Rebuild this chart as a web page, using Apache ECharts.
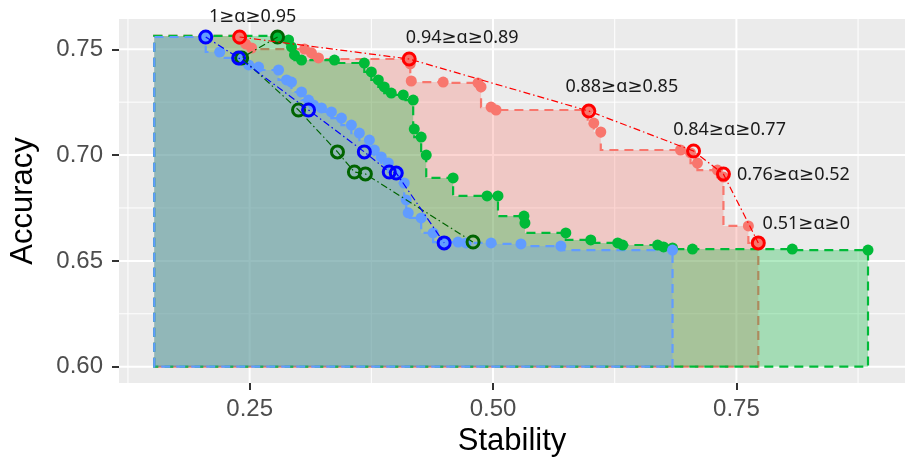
<!DOCTYPE html>
<html>
<head>
<meta charset="utf-8">
<script src="https://cdn.jsdelivr.net/npm/echarts@6/dist/echarts.min.js"></script>
<style>
html, body { margin: 0; padding: 0; background: #fff; }
#chart { width: 907px; height: 465px; }
</style>
</head>
<body>
<div id="chart"></div>
<script>
// axis breaks
const xTicks = [0.25, 0.5, 0.75];
const xMinor = [0.125, 0.375, 0.625, 0.875];
const yTicks = [0.6, 0.65, 0.7, 0.75];
const yMinor = [0.625, 0.675, 0.725];

// frontier points [stability, accuracy]
const redFront = [
  [0.2387, 0.7563], [0.2459, 0.7525], [0.2520, 0.7506], [0.3064, 0.7501],
  [0.3135, 0.7483], [0.3207, 0.7459], [0.4139, 0.7454], [0.4150, 0.7431],
  [0.4160, 0.7350], [0.4488, 0.7345], [0.4846, 0.7341], [0.4877, 0.7322],
  [0.4980, 0.7227], [0.5031, 0.7213], [0.5973, 0.7213], [0.6035, 0.7151],
  [0.6107, 0.7109], [0.6926, 0.7024], [0.7029, 0.7010], [0.7100, 0.6962],
  [0.7305, 0.6929], [0.7367, 0.6896], [0.7623, 0.6665], [0.7725, 0.6585]
];
const greenFront = [
  [0.2787, 0.7563], [0.2900, 0.7544], [0.2930, 0.7511], [0.2961, 0.7473],
  [0.3033, 0.7449], [0.3371, 0.7449], [0.3678, 0.7435], [0.3750, 0.7393],
  [0.3822, 0.7355], [0.3883, 0.7322], [0.3955, 0.7293], [0.4078, 0.7284],
  [0.4180, 0.7260], [0.4191, 0.7123], [0.4262, 0.7085], [0.4314, 0.7000],
  [0.4590, 0.6892], [0.4939, 0.6807], [0.5051, 0.6807], [0.5318, 0.6712],
  [0.5328, 0.6679], [0.5748, 0.6632], [0.6004, 0.6599], [0.6281, 0.6585],
  [0.6332, 0.6575], [0.6691, 0.6575], [0.6752, 0.6566], [0.6844, 0.6561],
  [0.7049, 0.6556], [0.8074, 0.6556], [0.8852, 0.6551]
];
const blueFront = [
  [0.2049, 0.7558], [0.2193, 0.7487], [0.2387, 0.7459], [0.2490, 0.7426],
  [0.2592, 0.7416], [0.2797, 0.7402], [0.2879, 0.7355], [0.2930, 0.7345],
  [0.3033, 0.7298], [0.3105, 0.7260], [0.3156, 0.7237], [0.3238, 0.7223],
  [0.3340, 0.7204], [0.3443, 0.7175], [0.3545, 0.7142], [0.3627, 0.7104],
  [0.3730, 0.7071], [0.3781, 0.7024], [0.3852, 0.6991], [0.3924, 0.6963],
  [0.4027, 0.6920], [0.4088, 0.6868], [0.4109, 0.6788], [0.4129, 0.6727],
  [0.4262, 0.6703], [0.4385, 0.6632], [0.4498, 0.6589], [0.4641, 0.6589],
  [0.4723, 0.6585], [0.4980, 0.6585], [0.5287, 0.6580], [0.5697, 0.6570],
  [0.6844, 0.6551]
];

// circled models
const redPick = [
  [0.2397, 0.7558], [0.4139, 0.7454], [0.5984, 0.7208],
  [0.7060, 0.7019], [0.7367, 0.6910], [0.7725, 0.6585]
];
const greenPick = [
  [0.2787, 0.7558], [0.2418, 0.7459], [0.3002, 0.7213], [0.3402, 0.7015],
  [0.3576, 0.6920], [0.3689, 0.6911], [0.4795, 0.6589]
];
const bluePick = [
  [0.2049, 0.7558], [0.2387, 0.7459], [0.3105, 0.7213], [0.3678, 0.7015],
  [0.3934, 0.6920], [0.4006, 0.6915], [0.4498, 0.6585]
];
const alphaLabels = ['1≥α≥0.95', '0.94≥α≥0.89', '0.88≥α≥0.85', '0.84≥α≥0.77', '0.76≥α≥0.52', '0.51≥α≥0'];

// shaded regions close on these
const areaLeft = 0.152;
const areaBottom = 0.6;

// layout
const X_MIN = 0.1158, X_MAX = 0.9232;
const Y_MIN = 0.5923, Y_MAX = 0.7643;
const labelOffsets = [[13, -20], [53, -21], [33, -24], [36, -21], [70, 1], [48, -19]];

const chart = echarts.init(document.getElementById('chart'));

// vh step through the points, closed down to the baseline
function stepPolygon(pts) {
  const out = [[areaLeft, areaBottom], [areaLeft, pts[0][1]]];
  pts.forEach((p, i) => {
    if (i > 0) out.push([pts[i - 1][0], p[1]]);
    out.push(p);
  });
  out.push([pts[pts.length - 1][0], areaBottom]);
  return out;
}

function areaSeries(pts, color, fill) {
  const poly = stepPolygon(pts);
  return {
    type: 'custom',
    silent: true,
    data: [[areaLeft, areaBottom]],
    renderItem(params, api) {
      return {
        type: 'polygon',
        shape: { points: poly.map(p => api.coord(p)) },
        style: { fill: fill, stroke: color, lineWidth: 2.2, lineDash: [9, 6] }
      };
    }
  };
}

function gridSeries(values, vertical, width) {
  return {
    type: 'custom',
    silent: true,
    data: values.map(v => vertical ? [v, Y_MIN] : [X_MIN, v]),
    renderItem(params, api) {
      const cs = params.coordSys;
      const p = api.coord([api.value(0), api.value(1)]);
      const shape = vertical
        ? { x1: p[0], y1: cs.y, x2: p[0], y2: cs.y + cs.height }
        : { x1: cs.x, y1: p[1], x2: cs.x + cs.width, y2: p[1] };
      return { type: 'line', shape: shape, style: { stroke: '#fff', lineWidth: width } };
    }
  };
}

function pointSeries(pts, color) {
  return {
    type: 'scatter', data: pts, symbolSize: 11, silent: true,
    itemStyle: { color: color, opacity: 1 }
  };
}

function pathSeries(pts, color) {
  return {
    type: 'line', data: pts, showSymbol: false, silent: true,
    lineStyle: { color: color, width: 1.2, type: [7, 3, 1.5, 3] }
  };
}

function pickSeries(pts, color, labels) {
  const s = {
    type: 'scatter', data: pts, symbol: 'circle', symbolSize: 12, silent: true,
    itemStyle: { color: 'rgba(0,0,0,0)', borderColor: color, borderWidth: 3, opacity: 1 }
  };
  if (labels) {
    s.data = pts.map((p, i) => ({
      value: p,
      label: { offset: labelOffsets[i] }
    }));
    s.label = {
      show: true,
      position: 'inside',
      formatter: p => labels[p.dataIndex],
      fontFamily: 'Noto Sans, DejaVu Sans, sans-serif',
      fontSize: 18,
      color: '#1a1a1a',
      align: 'center',
      verticalAlign: 'middle'
    };
  }
  return s;
}

const option = {
  animation: false,
  backgroundColor: '#fff',
  grid: {
    left: 117, right: 2, top: 19, bottom: 82,
    show: true, backgroundColor: '#EBEBEB', borderWidth: 0
  },
  xAxis: {
    type: 'value', min: X_MIN, max: X_MAX,
    name: 'Stability', nameLocation: 'middle', nameGap: 40,
    nameTextStyle: { fontFamily: 'Liberation Sans', fontSize: 31, color: '#000' },
    axisLine: { show: false },
    splitLine: { show: false },
    axisTick: { show: true, customValues: xTicks, length: 7, lineStyle: { color: '#333', width: 2 } },
    axisLabel: {
      customValues: xTicks, margin: 14,
      formatter: v => v.toFixed(2),
      fontFamily: 'Liberation Sans', fontSize: 24, color: '#4D4D4D'
    }
  },
  yAxis: {
    type: 'value', min: Y_MIN, max: Y_MAX,
    name: 'Accuracy', nameLocation: 'middle', nameGap: 80,
    nameTextStyle: { fontFamily: 'Liberation Sans', fontSize: 31, color: '#000' },
    axisLine: { show: false },
    splitLine: { show: false },
    axisTick: { show: true, customValues: yTicks, length: 7, lineStyle: { color: '#333', width: 2 } },
    axisLabel: {
      customValues: yTicks, margin: 16,
      formatter: v => v.toFixed(2),
      fontFamily: 'Liberation Sans', fontSize: 24, color: '#4D4D4D'
    }
  },
  series: [
    gridSeries(xMinor, true, 1),
    gridSeries(yMinor, false, 1),
    gridSeries(xTicks, true, 2),
    gridSeries(yTicks, false, 2),
    areaSeries(redFront, '#F8766D', 'rgba(248,118,109,0.3)'),
    pointSeries(redFront, '#F8766D'),
    areaSeries(greenFront, '#00BA38', 'rgba(0,186,56,0.3)'),
    pointSeries(greenFront, '#00BA38'),
    areaSeries(blueFront, '#619CFF', 'rgba(97,156,255,0.3)'),
    pointSeries(blueFront, '#619CFF'),
    pathSeries(redPick, '#FF0000'),
    pathSeries(greenPick, '#006400'),
    pathSeries(bluePick, '#0000FF'),
    pickSeries(redPick, '#FF0000', alphaLabels),
    pickSeries(greenPick, '#006400'),
    pickSeries(bluePick, '#0000FF')
  ]
};

chart.setOption(option);
</script>
</body>
</html>
